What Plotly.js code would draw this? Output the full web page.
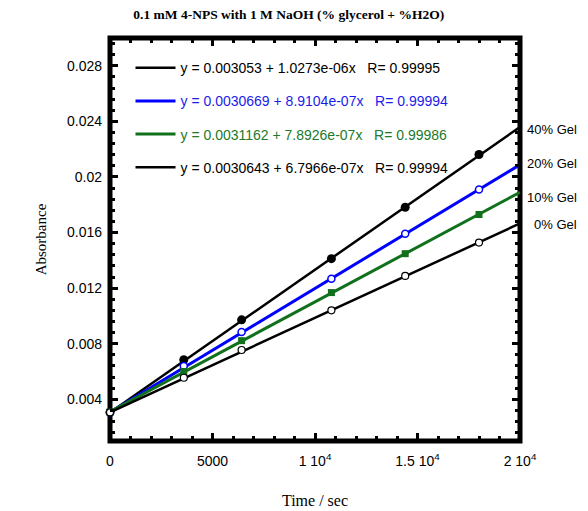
<!DOCTYPE html>
<html><head><meta charset="utf-8">
<script src="https://cdn.plot.ly/plotly-3.0.1.min.js"></script>
<style>html,body{margin:0;padding:0;background:#fff}#chart{width:588px;height:511px}</style>
</head><body><div id="chart"></div>
<script>
// ---- data ----
const timeSec = [0, 3600, 6420, 10800, 14400, 18000];
const gel40 = [0.00305, 0.00685, 0.00972, 0.01412, 0.01782, 0.02162];
const gel20 = [0.00307, 0.00640, 0.00885, 0.01268, 0.01592, 0.01910];
const gel10 = [0.00310, 0.00600, 0.00822, 0.01168, 0.01448, 0.01730];
const gel0  = [0.00306, 0.00555, 0.00755, 0.01040, 0.01288, 0.01528];

const fitX = [0, 20000];
const fitStart = [0.003053, 0.0030669, 0.0031162, 0.0030643];
const fitEnd   = [0.023599, 0.020888, 0.018901, 0.016657];
const fitText = [
  'y = 0.003053 + 1.0273e-06x   R= 0.99995',
  'y = 0.0030669 + 8.9104e-07x   R= 0.99994',
  'y = 0.0031162 + 7.8926e-07x   R= 0.99986',
  'y = 0.0030643 + 6.7966e-07x   R= 0.99994'
];
const gelLabels = ['40% Gel', '20% Gel', '10% Gel', '0% Gel'];
const xTickVals = [0, 5000, 10000, 15000, 20000];
const xTickText = ['0', '5000', '1 10<sup>4</sup>', '1.5 10<sup>4</sup>', '2 10<sup>4</sup>'];

// ---- styling ----
const series = [gel40, gel20, gel10, gel0];
const lineColors = ['#000000', '#0000ff', '#11701c', '#000000'];
const textColors = ['#000000', '#1c1ce8', '#217a2a', '#000000'];
const lineWidths = [2.5, 3, 3, 2.5];
const markers = [
  {symbol: 'circle', size: 9, color: '#000000'},
  {symbol: 'circle', size: 7, color: '#ffffff', line: {color: '#0000ff', width: 1.5}},
  {symbol: 'square', size: 7, color: '#11701c'},
  {symbol: 'circle', size: 7, color: '#ffffff', line: {color: '#000000', width: 1.2}}
];
const gelLabelY = [0.773, 0.689, 0.604, 0.537];

const esc = s => s.replace(/ {2,}/g, m => '&nbsp;'.repeat(m.length));

const traces = [];
for (let i = 0; i < 4; i++) {
  traces.push({
    x: fitX, y: [fitStart[i], fitEnd[i]], mode: 'lines',
    line: {color: lineColors[i], width: lineWidths[i]},
    name: '<span style="color:' + textColors[i] + '">' + esc(fitText[i]) + '</span>',
    legendgroup: 'g' + i, showlegend: true, hoverinfo: 'skip'
  });
}
for (let i = 0; i < 4; i++) {
  traces.push({
    x: timeSec, y: series[i], mode: 'markers', marker: markers[i],
    showlegend: false, cliponaxis: false, name: gelLabels[i]
  });
}

const axisCommon = {
  showline: false, showgrid: false, zeroline: false,
  ticks: 'inside', ticklen: 8, tickwidth: 3, tickcolor: '#000',
  mirror: 'ticks',
  tickfont: {family: 'Liberation Sans, Arial, sans-serif', size: 14, color: '#000'}
};

const layout = {
  width: 588, height: 511,
  margin: {l: 110, r: 68, t: 38, b: 70},
  paper_bgcolor: '#fff', plot_bgcolor: '#fff',
  showlegend: true,
  title: {
    text: '<b>0.1 mM 4-NPS with 1 M NaOH (% glycerol + %H2O)</b>',
    font: {family: 'Liberation Serif, Times New Roman, serif', size: 13.5, color: '#000'},
    x: 0.436, xanchor: 'center', xref: 'paper', y: 0.973, yanchor: 'middle'
  },
  xaxis: Object.assign({}, axisCommon, {
    range: [0, 20000], tickmode: 'array', tickvals: xTickVals, ticktext: xTickText,
    ticklabelstandoff: 10,
    minor: {dtick: 1000, tick0: 0, ticks: 'inside', ticklen: 5, tickwidth: 3, tickcolor: '#000'},
    title: {text: 'Time / sec', standoff: 26,
      font: {family: 'Liberation Serif, Times New Roman, serif', size: 16, color: '#000'}}
  }),
  yaxis: Object.assign({}, axisCommon, {
    range: [0.001, 0.030], tickmode: 'linear', tick0: 0.004, dtick: 0.004,
    ticklabelstandoff: 7,
    minor: {dtick: 0.0008, tick0: 0.004, ticks: 'inside', ticklen: 5, tickwidth: 3, tickcolor: '#000'},
    title: {text: 'Absorbance', standoff: 16,
      font: {family: 'Liberation Serif, Times New Roman, serif', size: 15, color: '#000'}}
  }),
  legend: {
    x: 0.05, y: 0.965, xanchor: 'left', yanchor: 'top',
    bgcolor: 'rgba(0,0,0,0)', borderwidth: 0,
    traceorder: 'grouped', tracegroupgap: 12, itemwidth: 40,
    font: {family: 'Liberation Sans, Arial, sans-serif', size: 14, color: '#000'}
  },
  shapes: [{
    type: 'rect', xref: 'paper', yref: 'paper', x0: 0, x1: 1, y0: 0, y1: 1,
    line: {color: '#000', width: 5}, layer: 'below'
  }],
  annotations: gelLabels.map((t, i) => ({
    text: t, xref: 'paper', yref: 'paper', x: 1.143, y: gelLabelY[i],
    xanchor: 'right', yanchor: 'middle', showarrow: false,
    font: {family: 'Liberation Sans, Arial, sans-serif', size: 13, color: '#000'}
  }))
};

Plotly.newPlot('chart', traces, layout, {displayModeBar: false, staticPlot: true});
</script></body></html>
